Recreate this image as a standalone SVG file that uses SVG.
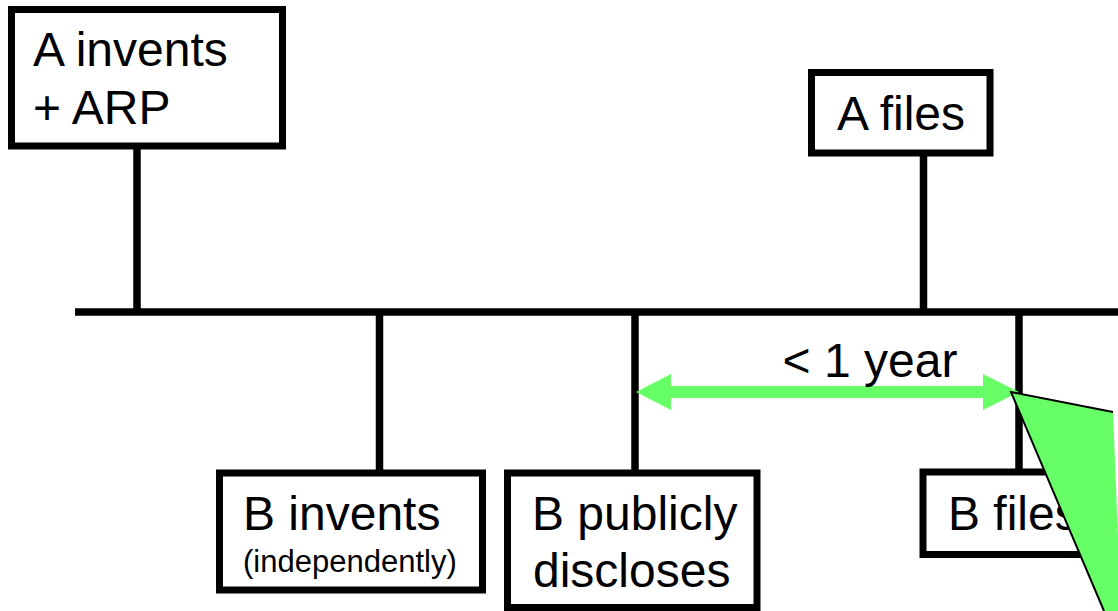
<svg xmlns="http://www.w3.org/2000/svg" width="1118" height="611" viewBox="0 0 1118 611">
<style>
.box{fill:#fff;stroke:#000;stroke-width:7}
.ln{stroke:#000;stroke-width:7.5;fill:none}
.t{font-family:"Liberation Sans",Arial,sans-serif;font-size:48px;fill:#000}
.s{font-family:"Liberation Sans",Arial,sans-serif;font-size:31px;fill:#000}
</style>
<rect width="1118" height="611" fill="#fff"/>
<g id="connectors">
<line class="ln" x1="75" y1="312" x2="1118" y2="312"/>
<line class="ln" x1="137" y1="146" x2="137" y2="312"/>
<line class="ln" x1="923.5" y1="153" x2="923.5" y2="312"/>
<line class="ln" x1="379.5" y1="312" x2="379.5" y2="473"/>
<line class="ln" x1="635" y1="312" x2="635" y2="473"/>
<line class="ln" x1="1019" y1="312" x2="1019" y2="472"/>
</g>
<g id="node-a-invents">
<rect class="box" x="11.5" y="9.5" width="271" height="136.5"/>
<text class="t" x="33" y="66">A invents</text>
<text class="t" x="33" y="124">+ ARP</text>
</g>
<g id="node-a-files">
<rect class="box" x="811.5" y="72.5" width="178.5" height="80.5"/>
<text class="t" x="837" y="130">A files</text>
</g>
<g id="node-b-invents">
<rect class="box" x="219.5" y="473" width="263" height="117"/>
<text class="t" x="243" y="530">B invents</text>
<text class="s" x="243" y="572">(independently)</text>
</g>
<g id="node-b-publicly">
<rect class="box" x="507.5" y="473" width="249.5" height="134.5"/>
<text class="t" x="532" y="530">B publicly</text>
<text class="t" x="533" y="587">discloses</text>
</g>
<g id="node-b-files">
<rect class="box" x="923" y="472" width="182" height="82.5"/>
<text class="t" x="948" y="530">B files</text>
</g>
<g id="interval">
<polygon fill="#66ff66" points="636,392 671,374 671,386 983,386 983,374 1019,392 983,410 983,398 671,398 671,410"/>
<text class="t" x="870" y="377" text-anchor="middle">&lt; 1 year</text>
</g>
<g id="callout">
<polygon fill="#66ff66" points="1011,392 1113,412 1121,611 1104,611"/>
<polyline fill="none" stroke="#000" stroke-width="2" points="1113,412 1011,392 1104,611"/>
</g>
</svg>
